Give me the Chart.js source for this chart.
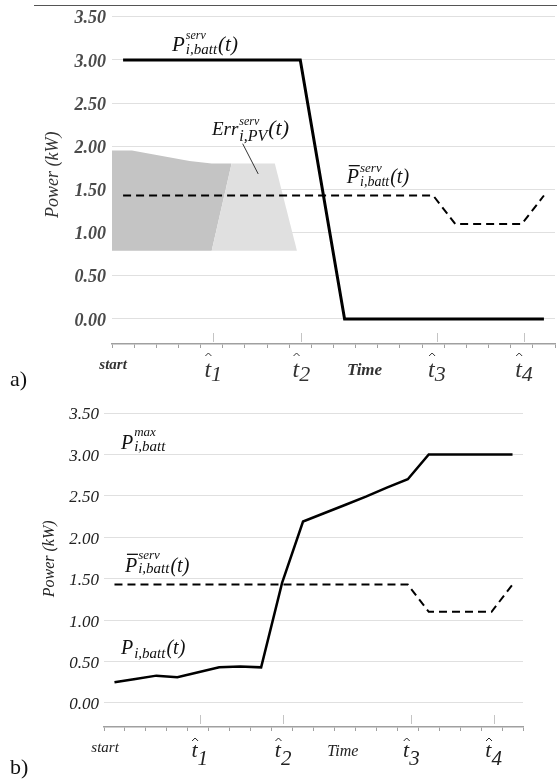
<!DOCTYPE html>
<html>
<head>
<meta charset="utf-8">
<script src="https://cdn.jsdelivr.net/npm/chart.js@4.4.0/dist/chart.umd.min.js"></script>
<style>
body{margin:0;background:#fff;width:557px;height:783px;position:relative;overflow:hidden;font-family:"Liberation Serif",serif}
.box{position:absolute;left:0;width:557px}
#boxA{top:0;height:390px}
#boxB{top:390px;height:393px}
.topline{position:absolute;left:34px;right:0;top:5px;border-top:1px solid #555}
.tag{position:absolute;left:10px;font-size:22px;color:#111;line-height:26px}
</style>
</head>
<body>
<div class="box" id="boxA"><canvas id="chartA" width="557" height="390"></canvas></div>
<div class="box" id="boxB"><canvas id="chartB" width="557" height="393"></canvas></div>
<div class="topline"></div>
<div class="tag" style="top:366px">a)</div>
<div class="tag" style="top:754px">b)</div>
<script>
Chart.defaults.font.family = '"Liberation Serif", "Times New Roman", serif';
Chart.defaults.color = '#333';

// time slots (20 steps on the axis, values at the middle of each)
const xPos = [0.5,1.5,2.5,3.5,4.5,5.5,6.5,7.5,8.5,9.5,10.5,11.5,12.5,13.5,14.5,15.5,16.5,17.5,18.5,19.5];
const servA = [3,3,3,3,3,3,3,3,3,1.5,0,0,0,0,0,0,0,0,0,0];
const servMean = [1.43,1.43,1.43,1.43,1.43,1.43,1.43,1.43,1.43,1.43,1.43,1.43,1.43,1.43,1.43,1.10,1.10,1.10,1.10,1.43];
const battB = [0.25,0.29,0.33,0.31,0.37,0.43,0.44,0.43,1.45,2.19,2.29,2.39,2.49,2.60,2.70,3.00,3.00,3.00,3.00,3.00];

// PV error band in panel a
const errDarkX = [0,0.9,3.5,4.5,5.4];
const errDarkY = [1.95,1.95,1.83,1.80,1.80];
const errEdgeX = [0,4.5,5.4];
const errEdgeY = [0.79,0.79,1.80];
const errLightX = [4.5,5.4,7.35,8.35];
const errLightY = [0.79,1.80,1.80,0.79];
const errBase = 0.79;
const leaderX = [5.9,6.6];
const leaderY = [2.03,1.68];

const yTicks = [0,0.5,1,1.5,2,2.5,3,3.5];
const tickNames = ['start','t1','t2','Time','t3','t4'];
const tickPos = [0.05,4.57,8.55,11.4,14.67,18.6];
const hatPos = [4.57,8.55,14.67,18.6];

const pts = (xs, ys) => xs.map((x, i) => ({x: x, y: ys[i]}));
const FAM = '"Liberation Serif", "Times New Roman", serif';

const mathLabel = (ctx, x, y, m) => {
  ctx.fillStyle = m.color || '#111';
  ctx.textAlign = 'left';
  ctx.textBaseline = 'alphabetic';
  ctx.font = `italic ${m.size}px ${FAM}`;
  ctx.fillText(m.base, x, y);
  const bw = ctx.measureText(m.base).width;
  if (m.bar) ctx.fillRect(x + m.size * 0.1, y - m.size * 0.92, bw * 0.9, 1.3);
  const sx = x + bw + 1;
  let w = 0;
  if (m.sup) {
    ctx.font = `italic ${m.supSize}px ${FAM}`;
    ctx.fillText(m.sup, sx, y - m.supDy);
    w = ctx.measureText(m.sup).width;
  }
  if (m.sub) {
    ctx.font = `italic ${m.subSize}px ${FAM}`;
    ctx.fillText(m.sub, sx, y + m.subDy);
    w = Math.max(w, ctx.measureText(m.sub).width);
  }
  if (m.tail) {
    ctx.font = `italic ${m.tailSize || m.size}px ${FAM}`;
    ctx.fillText(m.tail, sx + w + 1, y);
  }
};

const hatLabel = (ctx, cx, bottom, digit, o) => {
  ctx.font = `italic ${o.tSize}px ${FAM}`;
  const tw = ctx.measureText('t').width;
  ctx.font = `italic ${o.dSize}px ${FAM}`;
  const dw = ctx.measureText(digit).width;
  const left = cx - (tw + dw) / 2;
  ctx.fillStyle = o.labelColor;
  ctx.textAlign = 'left';
  ctx.textBaseline = 'alphabetic';
  ctx.font = `italic ${o.tSize}px ${FAM}`;
  ctx.fillText('t', left, bottom + o.tDy);
  ctx.font = `italic ${o.dSize}px ${FAM}`;
  ctx.fillText(digit, left + tw, bottom + o.dDy);
  // the hat
  const hx = left + tw * 0.6;
  const hy = bottom + o.hatDy;
  ctx.strokeStyle = o.labelColor;
  ctx.lineWidth = 1;
  ctx.beginPath();
  ctx.moveTo(hx - 3, hy + 3);
  ctx.lineTo(hx, hy);
  ctx.lineTo(hx + 3, hy + 3);
  ctx.stroke();
};

const deco = {
  id: 'deco',
  afterDraw(chart, args, o) {
    const {ctx, chartArea} = chart;
    const x = chart.scales.x, y = chart.scales.y;
    const bottom = chartArea.bottom;
    ctx.save();
    // major ticks above the time axis
    ctx.strokeStyle = '#c4c4c4';
    ctx.lineWidth = 1;
    hatPos.forEach(v => {
      const px = Math.round(x.getPixelForValue(v)) + 0.5;
      ctx.beginPath();
      ctx.moveTo(px, bottom - o.majTop);
      ctx.lineTo(px, bottom - o.majBot);
      ctx.stroke();
    });
    // time axis labels
    tickNames.forEach((n, i) => {
      const px = x.getPixelForValue(tickPos[i]);
      if (n[0] === 't' && n.length === 2) {
        hatLabel(ctx, px, bottom, n.slice(1), o);
      } else {
        const sz = n === 'start' ? o.startSize : o.timeSize;
        ctx.font = `italic ${o.wordWeight} ${sz}px ${FAM}`;
        ctx.fillStyle = o.labelColor;
        ctx.textAlign = 'center';
        ctx.textBaseline = 'middle';
        ctx.fillText(n, px, bottom + (n === 'start' ? o.startDy : o.timeDy));
      }
    });
    // y title
    ctx.save();
    ctx.translate(o.titleX, y.getPixelForValue(o.titleAt));
    ctx.rotate(-Math.PI / 2);
    ctx.font = `italic ${o.titleSize}px ${FAM}`;
    ctx.fillStyle = o.labelColor;
    ctx.textAlign = 'center';
    ctx.textBaseline = 'middle';
    ctx.fillText('Power (kW)', 0, 0);
    ctx.restore();
    // curve names
    o.notes.forEach(m => mathLabel(ctx, x.getPixelForValue(m.x), y.getPixelForValue(m.y), m));
    ctx.restore();
  }
};

const makeScales = (yWidth, xHeight, tickPad, tickFont, tickColor) => ({
  x: {
    type: 'linear', min: 0, max: 20,
    ticks: {stepSize: 1, display: false},
    grid: {drawOnChartArea: false, drawTicks: true, tickLength: 4, color: '#a0a0a0'},
    border: {display: true, color: '#a0a0a0', width: 1.5},
    afterFit: s => { s.height = xHeight; }
  },
  y: {
    min: -0.29, max: 3.5,
    afterBuildTicks: s => { s.ticks = yTicks.map(v => ({value: v})); },
    ticks: {callback: v => v.toFixed(2), padding: tickPad, font: tickFont, color: tickColor, labelOffset: 2},
    grid: {color: '#e0e0e0', drawTicks: false},
    border: {display: false},
    afterFit: s => { s.width = yWidth; }
  }
});

new Chart(document.getElementById('chartA'), {
  type: 'line',
  data: {
    datasets: [
      {data: pts(xPos, servA), borderColor: '#000', borderWidth: 3, pointRadius: 0, fill: false},
      {data: pts(xPos, servMean), borderColor: '#000', borderWidth: 2, borderDash: [8, 5], pointRadius: 0, fill: false},
      {data: pts(leaderX, leaderY), borderColor: '#333', borderWidth: 1, pointRadius: 0, fill: false},
      {data: pts(errLightX, errLightY), borderWidth: 0, pointRadius: 0, backgroundColor: '#e0e0e0', fill: {value: errBase}},
      {data: pts(errDarkX, errDarkY), borderWidth: 0, pointRadius: 0, backgroundColor: '#c4c4c4', fill: '+1'},
      {data: pts(errEdgeX, errEdgeY), borderWidth: 0, pointRadius: 0, fill: false}
    ]
  },
  options: {
    responsive: false, animation: false,
    elements: {line: {tension: 0}},
    layout: {padding: {top: 14, right: 2, left: 0, bottom: 0}},
    scales: makeScales(112, 46, 6, {size: 18, style: 'italic', weight: 'bold'}, '#4a4a4a'),
    plugins: {
      legend: {display: false}, tooltip: {enabled: false},
      deco: {
        majTop: 11, majBot: 2, labelColor: '#333',
        tSize: 24, dSize: 22, tDy: 33, dDy: 37, hatDy: 9,
        startSize: 15, timeSize: 17, wordWeight: 'bold', startDy: 21, timeDy: 27,
        titleX: 53, titleAt: 1.67, titleSize: 18,
        notes: [
          {base: 'P', sup: 'serv', sub: 'i,batt', tail: '(t)', x: 2.71, y: 3.10, size: 21, supSize: 12, subSize: 15, supDy: 12, subDy: 3},
          {base: 'Err', sup: 'serv', sub: 'i,PV', tail: '(t)', x: 4.51, y: 2.13, size: 19, tailSize: 22, supSize: 12, subSize: 16, supDy: 10, subDy: 6},
          {base: 'P', bar: true, sup: 'serv', sub: 'i,batt', tail: '(t)', x: 10.6, y: 1.57, size: 20, supSize: 13, subSize: 14, supDy: 11, subDy: 3}
        ]
      }
    }
  },
  plugins: [deco]
});

new Chart(document.getElementById('chartB'), {
  type: 'line',
  data: {
    datasets: [
      {data: pts(xPos, battB), borderColor: '#000', borderWidth: 2.5, pointRadius: 0, fill: false},
      {data: pts(xPos, servMean), borderColor: '#000', borderWidth: 2, borderDash: [8, 5], pointRadius: 0, fill: false}
    ]
  },
  options: {
    responsive: false, animation: false,
    elements: {line: {tension: 0}},
    layout: {padding: {top: 23, right: 34, left: 0, bottom: 0}},
    scales: makeScales(104, 56, 5, {size: 17, style: 'italic'}, '#222'),
    plugins: {
      legend: {display: false}, tooltip: {enabled: false},
      deco: {
        majTop: 12, majBot: 3, labelColor: '#222',
        tSize: 22, dSize: 21, tDy: 30, dDy: 38, hatDy: 11,
        startSize: 15, timeSize: 16, wordWeight: 'normal', startDy: 21, timeDy: 25,
        titleX: 50, titleAt: 1.74, titleSize: 16,
        notes: [
          {base: 'P', sup: 'max', sub: 'i,batt', x: 0.81, y: 3.06, size: 20, supSize: 13, subSize: 15, supDy: 13, subDy: 2},
          {base: 'P', bar: true, sup: 'serv', sub: 'i,batt', tail: '(t)', x: 1.0, y: 1.58, size: 20, supSize: 13, subSize: 15, supDy: 13, subDy: 1},
          {base: 'P', sub: 'i,batt', tail: '(t)', x: 0.81, y: 0.59, size: 20, subSize: 15, subDy: 4}
        ]
      }
    }
  },
  plugins: [deco]
});
</script>
</body>
</html>
